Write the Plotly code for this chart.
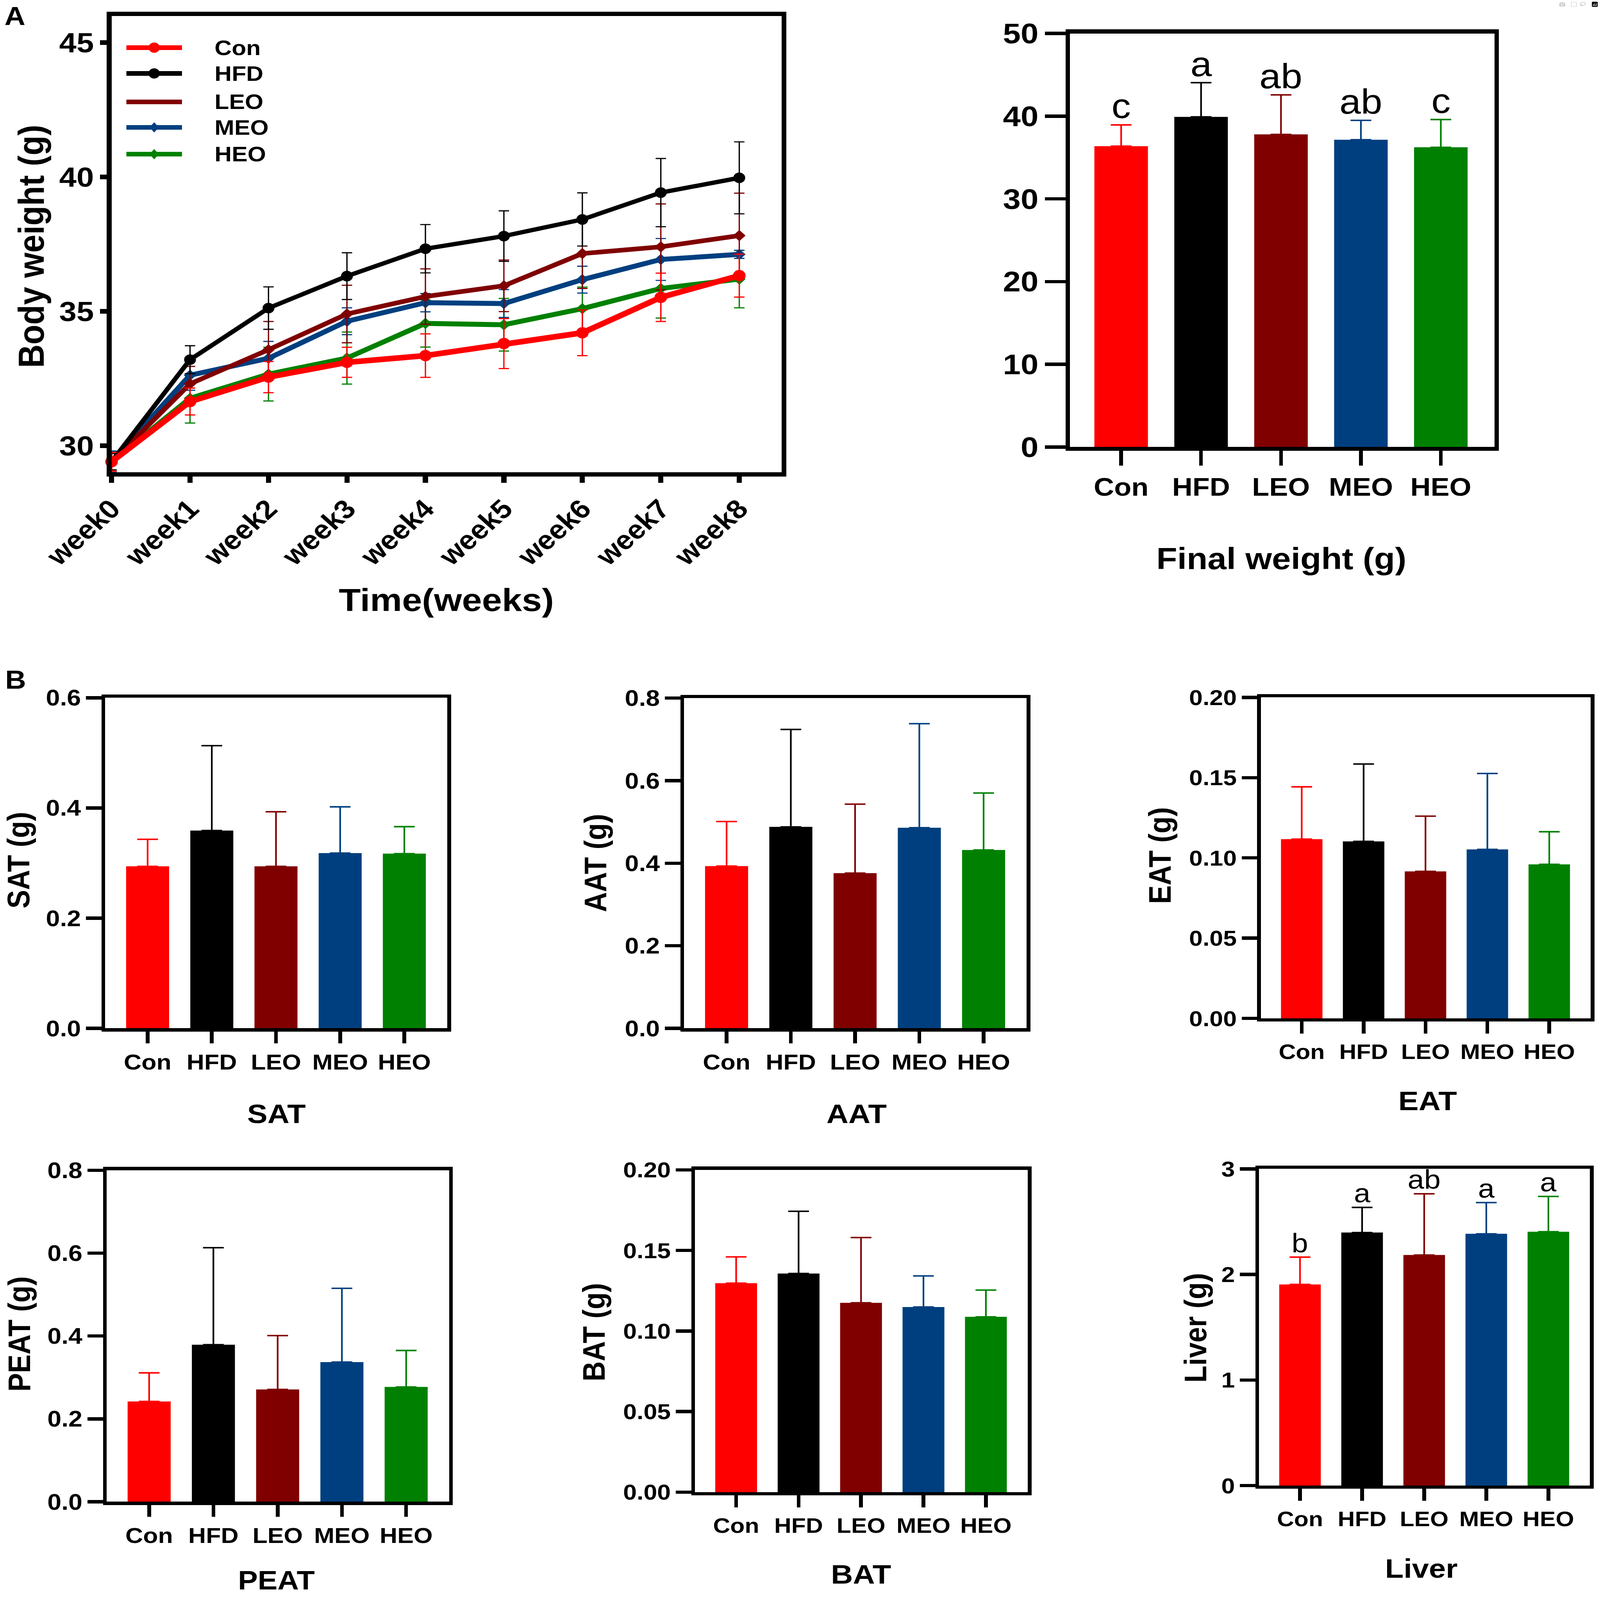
import plotly.graph_objects as go

W, H = 4317, 4836
FONT = "Liberation Sans, Arial, Helvetica, sans-serif"

# ---------------- data ----------------
weeks = ["week0", "week1", "week2", "week3", "week4", "week5", "week6", "week7", "week8"]
week_idx = [0, 1, 2, 3, 4, 5, 6, 7, 8]
groups = ["Con", "HFD", "LEO", "MEO", "HEO"]
group_colors = ["#FF0000", "#000000", "#800000", "#003F7F", "#008000"]

bw_con = [29.40, 31.64, 32.55, 33.10, 33.35, 33.80, 34.20, 35.52, 36.33]
bw_con_err = [0.35, 0.50, 0.58, 0.56, 0.81, 0.93, 0.85, 0.90, 0.80]
bw_hfd = [29.40, 33.20, 35.12, 36.31, 37.33, 37.80, 38.42, 39.42, 39.97]
bw_hfd_err = [0.30, 0.52, 0.79, 0.87, 0.90, 0.94, 0.99, 1.27, 1.34]
bw_leo = [29.40, 32.30, 33.57, 34.90, 35.55, 35.95, 37.15, 37.40, 37.82]
bw_leo_err = [0.35, 0.65, 1.05, 1.07, 1.03, 0.96, 1.30, 1.60, 1.58]
bw_meo = [29.40, 32.62, 33.25, 34.63, 35.32, 35.29, 36.18, 36.93, 37.12]
bw_meo_err = [0.40, 0.56, 0.63, 0.50, 0.34, 0.52, 0.50, 0.78, 0.15]
bw_heo = [29.40, 31.76, 32.66, 33.26, 34.55, 34.50, 35.10, 35.85, 36.20]
bw_heo_err = [0.40, 0.92, 1.00, 0.97, 0.88, 0.98, 0.80, 1.10, 1.07]

final_mean = [36.37, 39.91, 37.79, 37.15, 36.23]
final_err = [2.57, 4.14, 4.78, 2.34, 3.36]
final_letters = ["c", "a", "ab", "ab", "c"]

sat_mean = [0.294, 0.359, 0.294, 0.318, 0.317]
sat_err = [0.049, 0.154, 0.099, 0.084, 0.049]
aat_mean = [0.393, 0.488, 0.376, 0.486, 0.432]
aat_err = [0.108, 0.236, 0.167, 0.252, 0.138]
eat_mean = [0.1117, 0.1103, 0.0916, 0.1053, 0.0960]
eat_err = [0.0326, 0.0482, 0.0344, 0.0473, 0.0203]
peat_mean = [0.242, 0.379, 0.271, 0.337, 0.277]
peat_err = [0.069, 0.234, 0.130, 0.178, 0.088]
bat_mean = [0.1297, 0.1357, 0.1175, 0.1149, 0.1088]
bat_err = [0.0163, 0.0386, 0.0405, 0.0193, 0.0166]
liver_mean = [1.905, 2.397, 2.184, 2.385, 2.405]
liver_err = [0.259, 0.238, 0.580, 0.296, 0.334]
liver_letters = ["b", "a", "ab", "a", "a"]

# ---------------- helpers ----------------
def px(p):
    return p / W

def py(p):
    return 1 - p / H

def dom_x(a, b):
    return [a / W, b / W]

def dom_y(top, bottom):
    return [1 - bottom / H, 1 - top / H]

fig = go.Figure()
annotations = []
shapes = []

def bold(size):
    return dict(family=FONT, size=size, color="black", weight="bold")

def axis_common(lw, tl, tw):
    return dict(showline=True, linewidth=lw, linecolor="black", mirror=True,
                ticks="outside", ticklen=tl, tickwidth=tw, tickcolor="black",
                showgrid=False, zeroline=False, fixedrange=True, automargin=False)

def add_text(x, y, text, size, angle=0, weight="bold"):
    annotations.append(dict(x=px(x), y=py(y), xref="paper", yref="paper", text=text,
                            showarrow=False, textangle=angle, xanchor="center", yanchor="middle",
                            font=dict(family=FONT, size=size, color="black", weight=weight)))

# ---------------- panel A: line chart ----------------
series = [
    ("HEO", bw_heo, bw_heo_err, "#008000", "diamond", 26, 15),
    ("MEO", bw_meo, bw_meo_err, "#003F7F", "diamond", 26, 15),
    ("LEO", bw_leo, bw_leo_err, "#800000", "diamond", 26, 14),
    ("HFD", bw_hfd, bw_hfd_err, "#000000", "circle", 32, 13),
    ("Con", bw_con, bw_con_err, "#FF0000", "circle", 34, 17),
]
for name, ys, es, col, sym, ms, lw in series:
    fig.add_trace(go.Scatter(
        x=week_idx, y=ys, name=name, mode="lines+markers",
        line=dict(color=col, width=lw), marker=dict(symbol=sym, size=ms, color=col),
        error_y=dict(type="data", array=es, color=col, thickness=3.5, width=14),
        cliponaxis=False, showlegend=False, xaxis="x", yaxis="y"))

fig.update_layout(
    xaxis=dict(domain=dom_x(301, 2109), anchor="y", range=[0, 8.54],
               tickmode="array", tickvals=week_idx, ticktext=weeks, tickangle=-45,
               tickfont=bold(80), **axis_common(13, 18, 14)),
    yaxis=dict(domain=dom_y(48, 1428), anchor="x", range=[29.0, 46.0],
               tickmode="array", tickvals=[30, 35, 40, 45], tickfont=bold(84),
               **axis_common(13, 18, 14)),
)
add_text(1204, 1812, "Time(weeks)", 97)
add_text(84, 745, "Body weight (g)", 98, angle=-90)

# custom legend
legend_rows = [("Con", "#FF0000", "circle", 144, 14),
               ("HFD", "#000000", "circle", 222, 14),
               ("LEO", "#800000", None, 308, 14),
               ("MEO", "#003F7F", "diamond", 385, 14),
               ("HEO", "#008000", "diamond", 466, 14)]
for name, col, sym, yy, lw in legend_rows:
    shapes.append(dict(type="line", xref="paper", yref="paper", x0=px(341), x1=px(491),
                       y0=py(yy), y1=py(yy), line=dict(color=col, width=lw)))
    if sym == "circle":
        r = 15
        shapes.append(dict(type="circle", xref="paper", yref="paper", x0=px(416 - r), x1=px(416 + r),
                           y0=py(yy + r), y1=py(yy - r), fillcolor=col, line=dict(color=col, width=1)))
    elif sym == "diamond":
        r = 15
        path = (f"M {px(416 - 12)},{py(yy)} L {px(416)},{py(yy - r)} L {px(416 + 12)},{py(yy)} "
                f"L {px(416)},{py(yy + r)} Z")
        shapes.append(dict(type="path", xref="paper", yref="paper", path=path,
                           fillcolor=col, line=dict(color=col, width=1)))
    annotations.append(dict(x=px(577), y=py(yy), xref="paper", yref="paper", text=name,
                            showarrow=False, xanchor="left", yanchor="middle",
                            font=bold(64)))

# ---------------- bar panels ----------------
bar_panels = [
    dict(mean=final_mean, err=final_err, yr=[0, 50], tv=[0, 10, 20, 30, 40, 50], fmt="d",
         box=(2887, 4032, 101, 1351), xr=[-0.64, 4.67], yfs=86, xfs=76,
         xt="Final weight (g)", xtp=(3457, 1688), yt=None, ytp=None,
         letters=final_letters, lsize=104, tsize=92, lw=12, ytl=56, xtl=44),
    dict(mean=sat_mean, err=sat_err, yr=[0, 0.6], tv=[0, 0.2, 0.4, 0.6], fmt=".1f",
         box=(284, 1207, 2109, 3108), xr=[-0.66, 4.67], yfs=68, xfs=66,
         xt="SAT", xtp=(746, 3365), yt="SAT (g)", ytp=(50, 2600),
         letters=None, lsize=0, tsize=82, lw=10, ytl=42, xtl=36),
    dict(mean=aat_mean, err=aat_err, yr=[0, 0.8], tv=[0, 0.2, 0.4, 0.6, 0.8], fmt=".1f",
         box=(1846, 2770, 2110, 3108), xr=[-0.66, 4.67], yfs=68, xfs=66,
         xt="AAT", xtp=(2311, 3365), yt="AAT (g)", ytp=(1607, 2609),
         letters=None, lsize=0, tsize=82, lw=10, ytl=42, xtl=36),
    dict(mean=eat_mean, err=eat_err, yr=[0, 0.2], tv=[0, 0.05, 0.10, 0.15, 0.20], fmt=".2f",
         box=(3402, 4292, 2108, 3078), xr=[-0.66, 4.67], yfs=66, xfs=64,
         xt="EAT", xtp=(3852, 3326), yt="EAT (g)", ytp=(3130, 2586),
         letters=None, lsize=0, tsize=82, lw=10, ytl=42, xtl=36),
    dict(mean=peat_mean, err=peat_err, yr=[0, 0.8], tv=[0, 0.2, 0.4, 0.6, 0.8], fmt=".1f",
         box=(288, 1212, 3537, 4539), xr=[-0.66, 4.67], yfs=68, xfs=66,
         xt="PEAT", xtp=(746, 4776), yt="PEAT (g)", ytp=(52, 4032),
         letters=None, lsize=0, tsize=80, lw=10, ytl=42, xtl=36),
    dict(mean=bat_mean, err=bat_err, yr=[0, 0.2], tv=[0, 0.05, 0.10, 0.15, 0.20], fmt=".2f",
         box=(1875, 2773, 3536, 4510), xr=[-0.66, 4.67], yfs=66, xfs=64,
         xt="BAT", xtp=(2323, 4758), yt="BAT (g)", ytp=(1603, 4027),
         letters=None, lsize=0, tsize=82, lw=10, ytl=42, xtl=36),
    dict(mean=liver_mean, err=liver_err, yr=[0, 3], tv=[0, 1, 2, 3], fmt="d",
         box=(3397, 4290, 3533, 4490), xr=[-0.66, 4.67], yfs=66, xfs=64,
         xt="Liver", xtp=(3835, 4740), yt="Liver (g)", ytp=(3226, 4014),
         letters=liver_letters, lsize=80, tsize=82, lw=10, ytl=42, xtl=36),
]

layout_axes = {}
for i, p in enumerate(bar_panels):
    n = i + 2
    xa, ya = f"x{n}", f"y{n}"
    for g, m, e, c in zip(groups, p["mean"], p["err"], group_colors):
        fig.add_trace(go.Bar(
            x=[g], y=[m], width=0.67, marker=dict(color=c, line=dict(width=0)),
            error_y=dict(type="data", array=[e], arrayminus=[0], symmetric=False,
                         color=c, thickness=4.5, width=28),
            showlegend=False, xaxis=xa, yaxis=ya))
    x0, x1, y0, y1 = p["box"]
    layout_axes[f"xaxis{n}"] = dict(domain=dom_x(x0, x1), anchor=ya, type="category",
                                    categoryorder="array", categoryarray=groups,
                                    range=p["xr"], tickfont=bold(p["xfs"]),
                                    **axis_common(p["lw"], p["xtl"], 10))
    layout_axes[f"yaxis{n}"] = dict(domain=dom_y(y0, y1), anchor=xa, range=p["yr"],
                                    tickmode="array", tickvals=p["tv"], tickformat=p["fmt"],
                                    tickfont=bold(p["yfs"]),
                                    **axis_common(p["lw"], p["ytl"], 10))
    add_text(p["xtp"][0], p["xtp"][1], p["xt"], p["tsize"])
    if p["yt"]:
        add_text(p["ytp"][0], p["ytp"][1], p["yt"], 84, angle=-90)
    if p["letters"]:
        for g, m, e, c, lt in zip(groups, p["mean"], p["err"], group_colors, p["letters"]):
            annotations.append(dict(x=g, y=m + e, xref=xa, yref=ya, text=lt, showarrow=False,
                                    xanchor="center", yanchor="bottom", yshift=-4,
                                    font=dict(family=FONT, size=p["lsize"], color="black")))

fig.update_layout(**layout_axes)

# panel labels
annotations.append(dict(x=px(10), y=py(2), xref="paper", yref="paper", text="A", showarrow=False,
                        xanchor="left", yanchor="top", font=bold(78)))
annotations.append(dict(x=px(12), y=py(2008), xref="paper", yref="paper", text="B", showarrow=False,
                        xanchor="left", yanchor="top", font=bold(78)))

fig.update_layout(
    template="none",
    width=W, height=H, autosize=False,
    margin=dict(l=0, r=0, t=0, b=0, pad=0),
    paper_bgcolor="white", plot_bgcolor="white",
    barmode="overlay", showlegend=False,
    annotations=annotations, shapes=shapes,
    font=dict(family=FONT, color="black"),
)

# fit the fixed-size 4317x4836 figure into whatever viewport the page is shown in
fit_js = """
(function(){
  var d = document.getElementById('{plot_id}');
  document.documentElement.style.margin = '0';
  document.documentElement.style.overflow = 'hidden';
  document.body.style.margin = '0';
  document.body.style.overflow = 'hidden';
  function fit(){
    var sx = window.innerWidth / 4317, sy = window.innerHeight / 4836;
    d.style.transformOrigin = '0 0';
    d.style.transform = 'scale(' + sx + ',' + sy + ')';
  }
  fit();
  window.addEventListener('resize', fit);
})();
"""

fig.write_html("out.html", post_script=fit_js)
